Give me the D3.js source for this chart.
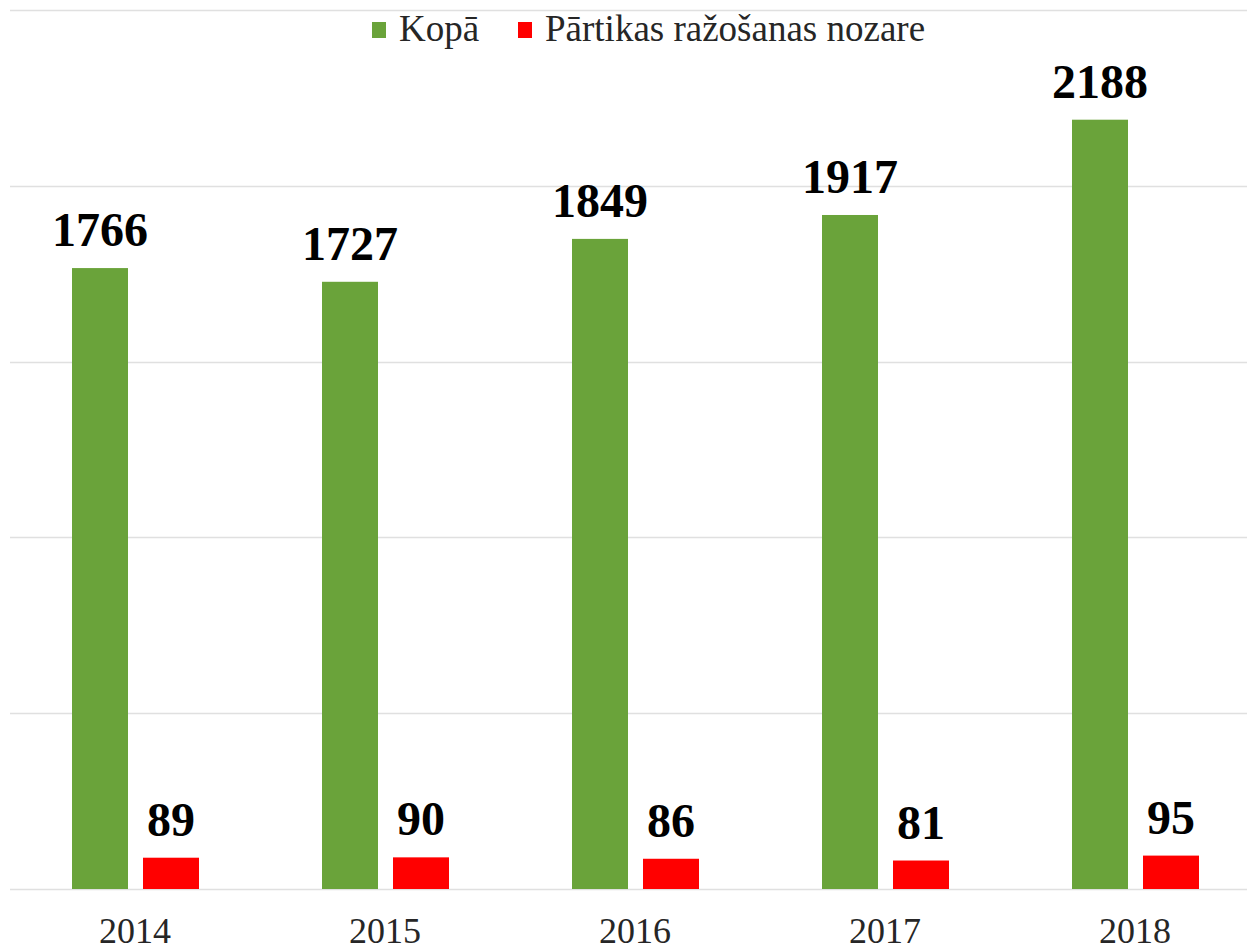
<!DOCTYPE html>
<html>
<head>
<meta charset="utf-8">
<script src="https://cdn.jsdelivr.net/npm/d3@7"></script>
<style>
  body { margin: 0; background: #fff; }
  svg text { font-family: "Liberation Serif", "Times New Roman", serif; }
</style>
</head>
<body>
<svg id="chart" width="1247" height="950"></svg>
<script>
var years = ["2014", "2015", "2016", "2017", "2018"];
var kopa = [1766, 1727, 1849, 1917, 2188];
var partika = [89, 90, 86, 81, 95];
var seriesNames = ["Kopā", "Pārtikas ražošanas nozare"];
var seriesColors = ["#6aa33a", "#ff0000"];
var gridTicks = [0, 500, 1000, 1500, 2000, 2500];

var svg = d3.select("#chart");
var w = 1247, h = 950;
var plotLeft = 10, plotBottom = 889, plotTop = 10;

var x = d3.scaleBand()
  .domain(years)
  .range([plotLeft, plotLeft + 5 * 250])
  .paddingInner(0)
  .paddingOuter(0);

var y = d3.scaleLinear()
  .domain([0, 2500])
  .range([plotBottom, plotTop]);

// inner band for the two series: 56px bars, 15px gap
var x1 = d3.scaleBand()
  .domain([0, 1])
  .range([62, 62 + 127])
  .paddingInner(15 / 71);

// gridlines
svg.append("g")
  .selectAll("line")
  .data(gridTicks)
  .enter()
  .append("line")
  .attr("x1", plotLeft)
  .attr("x2", w)
  .attr("y1", function(d) { return Math.round(y(d)) + 0.5; })
  .attr("y2", function(d) { return Math.round(y(d)) + 0.5; })
  .attr("stroke", "#e0e0e0")
  .attr("stroke-width", 1.5);

var rows = years.map(function(yr, i) {
  return { year: yr, values: [kopa[i], partika[i]] };
});

var groups = svg.selectAll("g.group")
  .data(rows)
  .enter()
  .append("g")
  .attr("class", "group")
  .attr("transform", function(d) { return "translate(" + x(d.year) + ",0)"; });

groups.selectAll("rect")
  .data(function(d) { return d.values; })
  .enter()
  .append("rect")
  .attr("x", function(d, i) { return x1(i); })
  .attr("y", function(d) { return y(d); })
  .attr("width", x1.bandwidth())
  .attr("height", function(d) { return plotBottom - y(d); })
  .attr("fill", function(d, i) { return seriesColors[i]; });

groups.selectAll("text.val")
  .data(function(d) { return d.values; })
  .enter()
  .append("text")
  .attr("class", "val")
  .attr("x", function(d, i) { return x1(i) + x1.bandwidth() / 2; })
  .attr("y", function(d) { return y(d) - 22; })
  .attr("text-anchor", "middle")
  .attr("font-weight", "bold")
  .attr("font-size", 48)
  .attr("fill", "#000")
  .text(function(d) { return d; });

// x axis labels
svg.append("g")
  .selectAll("text")
  .data(years)
  .enter()
  .append("text")
  .attr("x", function(d) { return x(d) + x.bandwidth() / 2; })
  .attr("y", 943)
  .attr("text-anchor", "middle")
  .attr("font-size", 36)
  .attr("fill", "#262626")
  .text(function(d) { return d; });

// legend
var legend = svg.append("g");
var legendX = [372, 518];
seriesNames.forEach(function(name, i) {
  legend.append("rect")
    .attr("x", legendX[i])
    .attr("y", 22)
    .attr("width", 14)
    .attr("height", 16)
    .attr("fill", seriesColors[i]);
  legend.append("text")
    .attr("x", legendX[i] + 27)
    .attr("y", 41)
    .attr("font-size", 37)
    .attr("fill", "#262626")
    .text(name);
});
</script>
</body>
</html>
